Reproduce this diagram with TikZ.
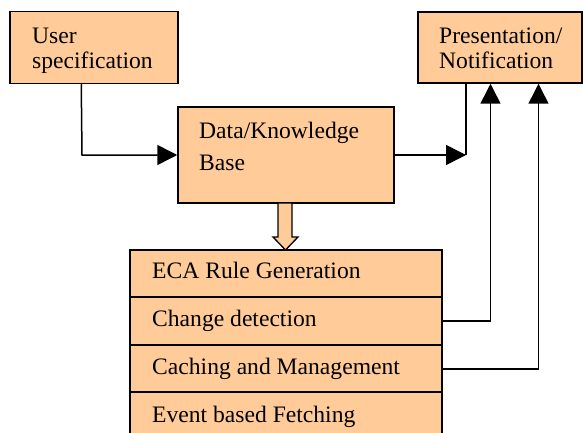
\documentclass[tikz,border=0pt]{standalone}
\usepackage{fontspec}
\setmainfont{Liberation Serif}
\usetikzlibrary{arrows.meta,calc}
\definecolor{peach}{RGB}{255,204,153}
\tikzset{
  box/.style={draw=black, line width=1.5pt, fill=peach, rectangle, inner sep=0pt},
  lbl/.style={anchor=base west, inner sep=0pt, font=\fontsize{23.6}{25}\selectfont},
  conn/.style={draw=black, line width=1.5pt},
  tri/.style={-{Triangle[length=20pt,width=20pt]}}
}
\begin{document}
\begin{tikzpicture}[x=1pt,y=-1pt]
\clip (0,0) rectangle (583,433);
\fill[white] (0,0) rectangle (583,433);
% boxes
\node[box, minimum width=168pt, minimum height=72pt] (user) at (94,47.5) {};
\node[box, minimum width=216pt, minimum height=96pt] (dk) at (286,155) {};
\node[box, minimum width=164pt, minimum height=71pt] (pres) at (500,47.5) {};
\node[box, minimum width=312pt, minimum height=47pt] (eca) at (286,273.5) {};
\node[box, minimum width=312pt, minimum height=48pt] (chg) at (286,321) {};
\node[box, minimum width=312pt, minimum height=47pt] (cache) at (286,368.5) {};
\node[box, minimum width=312pt, minimum height=48pt] (fetch) at (286,416) {};
% labels
\node[lbl] (tuser1) at (32,43.5) {User};
\node[lbl] (tuser2) at (32,68.5) {specification};
\node[lbl] (tdk1) at (199,139) {Data/Knowledge};
\node[lbl] (tdk2) at (199,170.5) {Base};
\node[lbl] (tpres1) at (439,43.5) {Presentation/};
\node[lbl] (tpres2) at (439,68.5) {Notification};
\node[lbl] (teca) at (152,278.5) {ECA Rule Generation};
\node[lbl] (tchg) at (152,326.5) {Change detection};
\node[lbl] (tcache) at (152,374.5) {Caching and Management};
\node[lbl] (tfetch) at (152,422.5) {Event based Fetching};
% hollow arrow from dk to eca
\filldraw[fill=peach, draw=black, line width=1.3pt]
  (278,203) -- (292,203) -- (292,237) -- (298,237) -- (285.5,250) -- (273,237) -- (278,237) -- cycle;
% connectors
\coordinate (c1) at (82,155);
\draw[conn, tri] ($(user.south west)+(72,0)$) -- (c1) -- (dk.west);
\coordinate (c2) at (466,155);
\draw[conn, tri] (dk.east) -- (c2);
\draw[conn] (c2) -- (c2 |- pres.south);
\coordinate (c3) at (490.5,321);
\draw[conn, tri] (chg.east) -- (c3) -- (c3 |- pres.south);
\coordinate (c4) at (538.5,369);
\draw[conn, tri] (cache.east |- c4) -- (c4) -- (c4 |- pres.south);
\end{tikzpicture}
\end{document}
